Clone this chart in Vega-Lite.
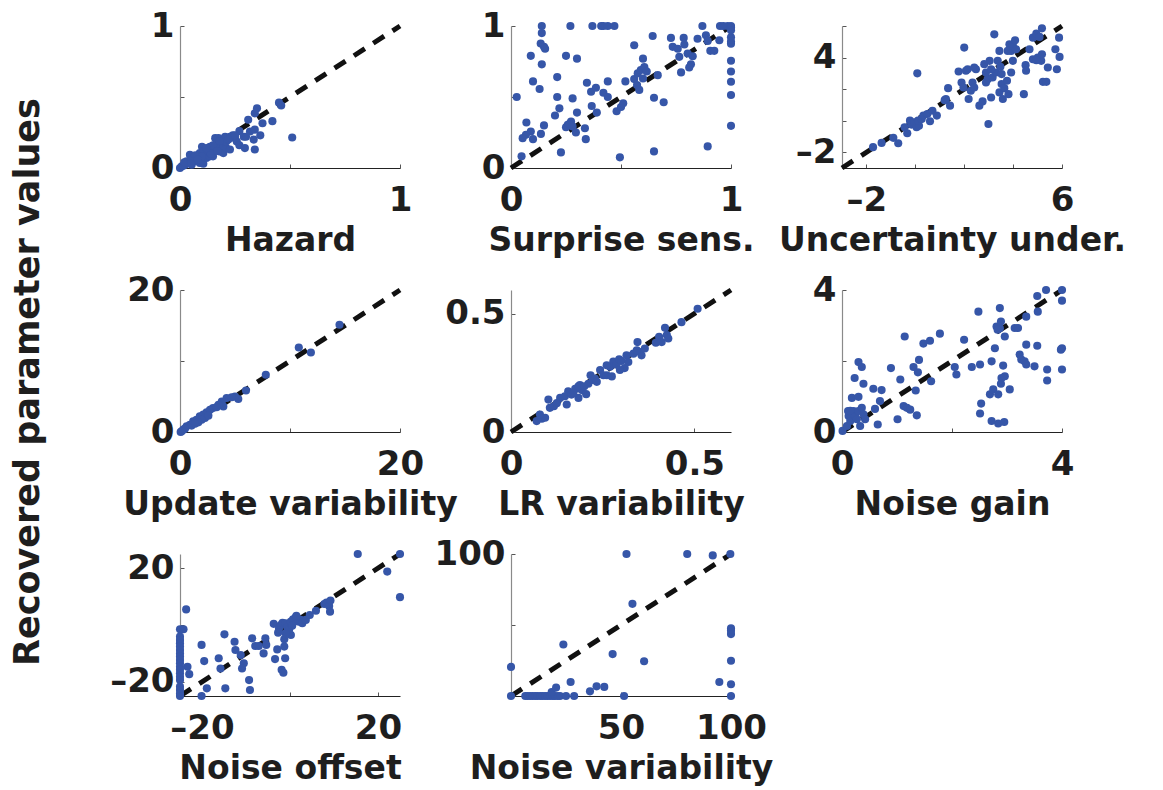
{
  "$schema": "https://vega.github.io/schema/vega-lite/v6.json",
  "background": "white",
  "padding": {"left": 10, "top": 9, "right": 5, "bottom": 5},
  "title": {"text": "Recovered parameter values", "orient": "left", "anchor": "middle", "font": "DejaVu Sans", "fontSize": 35, "fontWeight": "bold", "color": "#1e1e1e", "offset": 64, "dx": 15},
  "config": {
    "font": "DejaVu Sans",
    "view": {"stroke": null},
    "axis": {"labelFont": "DejaVu Sans", "labelFontSize": 34, "labelFontWeight": "bold", "labelColor": "#1e1e1e", "titleFont": "DejaVu Sans", "titleFontSize": 33, "titleFontWeight": "bold", "titleColor": "#1e1e1e", "grid": false, "tickSize": -4, "tickColor": "#555", "domainWidth": 1.2, "labelOverlap": false, "labelFlush": false, "labelBound": false},
    "axisX": {"domainColor": "#222", "labelPadding": 19, "titlePadding": 7},
    "axisY": {"domainColor": "#8a8a8a", "labelPadding": 10}
  },
  "datasets": {
    "diag01": [{"simulated": 0, "recovered": 0}, {"simulated": 1, "recovered": 1}],
    "diag3": [{"simulated": -3, "recovered": -3}, {"simulated": 6, "recovered": 6}],
    "diag20": [{"simulated": 0, "recovered": 0}, {"simulated": 20, "recovered": 20}],
    "diag06": [{"simulated": 0, "recovered": 0}, {"simulated": 0.6, "recovered": 0.6}],
    "diag4": [{"simulated": 0, "recovered": 0}, {"simulated": 4, "recovered": 4}],
    "diag25": [{"simulated": -25, "recovered": -25}, {"simulated": 25, "recovered": 25}],
    "diag100": [{"simulated": 0, "recovered": 0}, {"simulated": 100, "recovered": 100}],
    "hazard": [
      {"simulated": 0, "recovered": 0}, {"simulated": 0.008, "recovered": 0.012}, {"simulated": 0.015, "recovered": 0.016}, {"simulated": 0.023, "recovered": 0.023}, {"simulated": 0.03, "recovered": 0.047}, {"simulated": 0.038, "recovered": 0.035}, {"simulated": 0.045, "recovered": 0.093}, {"simulated": 0.053, "recovered": 0.023}, {"simulated": 0.06, "recovered": 0.07}, {"simulated": 0.068, "recovered": 0.047}, {"simulated": 0.076, "recovered": 0.058}, {"simulated": 0.083, "recovered": 0.082}, {"simulated": 0.09, "recovered": 0.035}, {"simulated": 0.09, "recovered": 0.105}, {"simulated": 0.1, "recovered": 0.15}, {"simulated": 0.106, "recovered": 0.117}, {"simulated": 0.106, "recovered": 0.03}, {"simulated": 0.12, "recovered": 0.105}, {"simulated": 0.12, "recovered": 0.07}, {"simulated": 0.136, "recovered": 0.15}, {"simulated": 0.136, "recovered": 0.082}, {"simulated": 0.144, "recovered": 0.117}, {"simulated": 0.15, "recovered": 0.082}, {"simulated": 0.16, "recovered": 0.21}, {"simulated": 0.167, "recovered": 0.175}, {"simulated": 0.167, "recovered": 0.14}, {"simulated": 0.175, "recovered": 0.21}, {"simulated": 0.18, "recovered": 0.117}, {"simulated": 0.19, "recovered": 0.187}, {"simulated": 0.197, "recovered": 0.15}, {"simulated": 0.197, "recovered": 0.105}, {"simulated": 0.205, "recovered": 0.22}, {"simulated": 0.21, "recovered": 0.14}, {"simulated": 0.21, "recovered": 0.187}, {"simulated": 0.227, "recovered": 0.22}, {"simulated": 0.227, "recovered": 0.13}, {"simulated": 0.24, "recovered": 0.23}, {"simulated": 0.25, "recovered": 0.21}, {"simulated": 0.258, "recovered": 0.187}, {"simulated": 0.27, "recovered": 0.26}, {"simulated": 0.27, "recovered": 0.16}, {"simulated": 0.29, "recovered": 0.22}, {"simulated": 0.295, "recovered": 0.14}, {"simulated": 0.3, "recovered": 0.22}, {"simulated": 0.31, "recovered": 0.34}, {"simulated": 0.318, "recovered": 0.257}, {"simulated": 0.335, "recovered": 0.2}, {"simulated": 0.34, "recovered": 0.385}, {"simulated": 0.34, "recovered": 0.27}, {"simulated": 0.34, "recovered": 0.13}, {"simulated": 0.35, "recovered": 0.42}, {"simulated": 0.365, "recovered": 0.23}, {"simulated": 0.375, "recovered": 0.315}, {"simulated": 0.42, "recovered": 0.33}, {"simulated": 0.45, "recovered": 0.46}, {"simulated": 0.46, "recovered": 0.44}, {"simulated": 0.51, "recovered": 0.215},
      {"simulated": 0.02, "recovered": 0.04}, {"simulated": 0.05, "recovered": 0.05}, {"simulated": 0.07, "recovered": 0.09}, {"simulated": 0.11, "recovered": 0.12}, {"simulated": 0.13, "recovered": 0.13}, {"simulated": 0.15, "recovered": 0.16}, {"simulated": 0.18, "recovered": 0.19}, {"simulated": 0.22, "recovered": 0.2}, {"simulated": 0.25, "recovered": 0.23}, {"simulated": 0.1, "recovered": 0.08}, {"simulated": 0.14, "recovered": 0.1}, {"simulated": 0.17, "recovered": 0.12}, {"simulated": 0.05, "recovered": 0.03}, {"simulated": 0.08, "recovered": 0.06}, {"simulated": 0.12, "recovered": 0.14}
    ],
    "surprise": [
      {"simulated": 0.14, "recovered": 1}, {"simulated": 0.27, "recovered": 1}, {"simulated": 0.37, "recovered": 1}, {"simulated": 0.41, "recovered": 1}, {"simulated": 0.42, "recovered": 1}, {"simulated": 0.44, "recovered": 1}, {"simulated": 0.47, "recovered": 1}, {"simulated": 0.87, "recovered": 1}, {"simulated": 0.95, "recovered": 1}, {"simulated": 0.965, "recovered": 1}, {"simulated": 0.985, "recovered": 1}, {"simulated": 1, "recovered": 1}, {"simulated": 1, "recovered": 0.99},
      {"simulated": 0.14, "recovered": 0.95}, {"simulated": 0.135, "recovered": 0.876}, {"simulated": 0.15, "recovered": 0.853}, {"simulated": 0.155, "recovered": 0.84}, {"simulated": 0.09, "recovered": 0.79}, {"simulated": 0.14, "recovered": 0.73}, {"simulated": 0.25, "recovered": 0.79}, {"simulated": 0.3, "recovered": 0.77}, {"simulated": 0.1, "recovered": 0.61}, {"simulated": 0.13, "recovered": 0.556}, {"simulated": 0.21, "recovered": 0.64}, {"simulated": 0.21, "recovered": 0.5}, {"simulated": 0.026, "recovered": 0.5}, {"simulated": 0.28, "recovered": 0.49}, {"simulated": 0.22, "recovered": 0.42}, {"simulated": 0.2, "recovered": 0.37}, {"simulated": 0.3, "recovered": 0.39}, {"simulated": 0.07, "recovered": 0.32}, {"simulated": 0.15, "recovered": 0.3}, {"simulated": 0.09, "recovered": 0.257}, {"simulated": 0.068, "recovered": 0.234}, {"simulated": 0.053, "recovered": 0.21}, {"simulated": 0.1, "recovered": 0.203}, {"simulated": 0.136, "recovered": 0.24}, {"simulated": 0.048, "recovered": 0.082}, {"simulated": 0.227, "recovered": 0.11}, {"simulated": 0.258, "recovered": 0.304}, {"simulated": 0.273, "recovered": 0.327}, {"simulated": 0.25, "recovered": 0.287}, {"simulated": 0.28, "recovered": 0.292}, {"simulated": 0.295, "recovered": 0.25}, {"simulated": 0.265, "recovered": 0.31}, {"simulated": 0.336, "recovered": 0.28}, {"simulated": 0.34, "recovered": 0.203}, {"simulated": 0.345, "recovered": 0.6}, {"simulated": 0.364, "recovered": 0.537}, {"simulated": 0.386, "recovered": 0.565}, {"simulated": 0.367, "recovered": 0.437}, {"simulated": 0.39, "recovered": 0.39}, {"simulated": 0.42, "recovered": 0.53}, {"simulated": 0.44, "recovered": 0.5}, {"simulated": 0.44, "recovered": 0.61}, {"simulated": 0.48, "recovered": 0.4}, {"simulated": 0.5, "recovered": 0.43}, {"simulated": 0.51, "recovered": 0.456}, {"simulated": 0.52, "recovered": 0.61}, {"simulated": 0.495, "recovered": 0.075}, {"simulated": 0.56, "recovered": 0.626}, {"simulated": 0.573, "recovered": 0.584}, {"simulated": 0.583, "recovered": 0.55}, {"simulated": 0.576, "recovered": 0.666}, {"simulated": 0.6, "recovered": 0.63}, {"simulated": 0.6, "recovered": 0.77}, {"simulated": 0.59, "recovered": 0.69}, {"simulated": 0.606, "recovered": 0.71}, {"simulated": 0.617, "recovered": 0.68}, {"simulated": 0.56, "recovered": 0.864}, {"simulated": 0.65, "recovered": 0.495}, {"simulated": 0.65, "recovered": 0.117}, {"simulated": 0.644, "recovered": 0.93}, {"simulated": 0.667, "recovered": 0.654}, {"simulated": 0.694, "recovered": 0.463}, {"simulated": 0.727, "recovered": 0.916}, {"simulated": 0.735, "recovered": 0.853}, {"simulated": 0.758, "recovered": 0.84}, {"simulated": 0.765, "recovered": 0.783}, {"simulated": 0.785, "recovered": 0.916}, {"simulated": 0.788, "recovered": 0.87}, {"simulated": 0.803, "recovered": 0.806}, {"simulated": 0.826, "recovered": 0.787}, {"simulated": 0.818, "recovered": 0.73}, {"simulated": 0.81, "recovered": 0.708}, {"simulated": 0.773, "recovered": 0.673}, {"simulated": 0.848, "recovered": 0.91}, {"simulated": 0.886, "recovered": 0.935}, {"simulated": 0.894, "recovered": 0.895}, {"simulated": 0.906, "recovered": 0.825}, {"simulated": 0.924, "recovered": 0.825}, {"simulated": 0.894, "recovered": 0.152}, {"simulated": 0.947, "recovered": 0.9}, {"simulated": 1, "recovered": 0.92}, {"simulated": 1, "recovered": 0.89}, {"simulated": 1, "recovered": 0.875}, {"simulated": 1, "recovered": 0.755}, {"simulated": 1, "recovered": 0.68}, {"simulated": 1, "recovered": 0.607}, {"simulated": 1, "recovered": 0.514}, {"simulated": 1, "recovered": 0.297}, {"simulated": 1, "recovered": 0.97}
    ],
    "uncertainty": [
      {"simulated": -1.73, "recovered": -1.68}, {"simulated": -1.38, "recovered": -1.41}, {"simulated": -0.9, "recovered": -1.09}, {"simulated": -0.7, "recovered": -1.43}, {"simulated": -0.44, "recovered": -0.42}, {"simulated": -0.33, "recovered": -0.8}, {"simulated": -0.22, "recovered": 0.0}, {"simulated": -0.16, "recovered": -0.25}, {"simulated": -0.05, "recovered": -0.1}, {"simulated": 0.05, "recovered": -0.42}, {"simulated": 0.15, "recovered": -0.32}, {"simulated": 0.11, "recovered": 0.0}, {"simulated": 0.26, "recovered": 0.1}, {"simulated": 0.33, "recovered": 0.32}, {"simulated": 0.49, "recovered": 0.42}, {"simulated": 0.6, "recovered": -0.04}, {"simulated": 0.7, "recovered": 0.63}, {"simulated": 0.88, "recovered": 0.32}, {"simulated": 0.08, "recovered": 3.0}, {"simulated": 1.25, "recovered": 1.37}, {"simulated": 1.34, "recovered": 2.06}, {"simulated": 1.42, "recovered": 0.95}, {"simulated": 1.2, "recovered": 1.3}, {"simulated": 1.77, "recovered": 3.12}, {"simulated": 1.89, "recovered": 2.42}, {"simulated": 2.0, "recovered": 4.63}, {"simulated": 2.07, "recovered": 3.16}, {"simulated": 2.14, "recovered": 3.26}, {"simulated": 1.97, "recovered": 2.1}, {"simulated": 2.18, "recovered": 1.37}, {"simulated": 2.27, "recovered": 1.9}, {"simulated": 2.34, "recovered": 2.42}, {"simulated": 2.41, "recovered": 2.1}, {"simulated": 2.48, "recovered": 3.26}, {"simulated": 2.62, "recovered": 0.95}, {"simulated": 2.75, "recovered": 1.22}, {"simulated": 2.82, "recovered": 3.58}, {"simulated": 2.89, "recovered": 3.05}, {"simulated": 2.89, "recovered": 2.42}, {"simulated": 2.96, "recovered": 2.63}, {"simulated": 2.99, "recovered": -0.21}, {"simulated": 3.04, "recovered": 3.79}, {"simulated": 3.1, "recovered": 1.47}, {"simulated": 3.16, "recovered": 2.74}, {"simulated": 3.23, "recovered": 5.47}, {"simulated": 3.3, "recovered": 3.05}, {"simulated": 3.37, "recovered": 3.79}, {"simulated": 3.44, "recovered": 4.42}, {"simulated": 3.48, "recovered": 3.41}, {"simulated": 3.53, "recovered": 2.95}, {"simulated": 3.53, "recovered": 2.32}, {"simulated": 3.44, "recovered": 1.79}, {"simulated": 3.58, "recovered": 1.37}, {"simulated": 3.64, "recovered": 2.06}, {"simulated": 3.75, "recovered": 2.53}, {"simulated": 3.81, "recovered": 1.68}, {"simulated": 3.85, "recovered": 4.84}, {"simulated": 3.92, "recovered": 4.42}, {"simulated": 3.99, "recovered": 3.79}, {"simulated": 3.92, "recovered": 3.05}, {"simulated": 3.99, "recovered": 4.74}, {"simulated": 4.08, "recovered": 5.09}, {"simulated": 4.12, "recovered": 4.53}, {"simulated": 4.44, "recovered": 1.68}, {"simulated": 4.51, "recovered": 3.52}, {"simulated": 4.53, "recovered": 3.16}, {"simulated": 4.67, "recovered": 4.53}, {"simulated": 4.81, "recovered": 5.26}, {"simulated": 4.81, "recovered": 3.89}, {"simulated": 4.95, "recovered": 5.52}, {"simulated": 5.01, "recovered": 4.0}, {"simulated": 5.08, "recovered": 5.31}, {"simulated": 5.15, "recovered": 3.79}, {"simulated": 5.18, "recovered": 5.85}, {"simulated": 5.18, "recovered": 4.21}, {"simulated": 5.22, "recovered": 2.46}, {"simulated": 5.36, "recovered": 2.46}, {"simulated": 5.42, "recovered": 3.37}, {"simulated": 5.73, "recovered": 4.53}, {"simulated": 5.79, "recovered": 3.26}, {"simulated": 5.88, "recovered": 5.26}, {"simulated": 5.9, "recovered": 4.04}, {"simulated": 4.95, "recovered": 3.83}, {"simulated": 3.78, "recovered": 4.42}, {"simulated": 3.1, "recovered": 3.26}, {"simulated": 2.41, "recovered": 3.37}
    ],
    "update": [
      {"simulated": 14.5, "recovered": 15.1}, {"simulated": 10.8, "recovered": 11.9}, {"simulated": 11.9, "recovered": 11.2}, {"simulated": 7.8, "recovered": 8.06}, {"simulated": 6.0, "recovered": 5.85}, {"simulated": 5.3, "recovered": 4.64}, {"simulated": 5.0, "recovered": 5.0}, {"simulated": 4.24, "recovered": 4.78}, {"simulated": 3.94, "recovered": 3.6}, {"simulated": 3.8, "recovered": 4.3}, {"simulated": 3.5, "recovered": 3.84}, {"simulated": 3.0, "recovered": 3.37}, {"simulated": 2.73, "recovered": 3.14}, {"simulated": 2.42, "recovered": 2.76}, {"simulated": 2.12, "recovered": 2.44}, {"simulated": 1.8, "recovered": 2.2}, {"simulated": 1.5, "recovered": 1.73}, {"simulated": 1.2, "recovered": 1.5}, {"simulated": 0.9, "recovered": 1.03}, {"simulated": 0.6, "recovered": 0.8}, {"simulated": 0.3, "recovered": 0.33}, {"simulated": 0.06, "recovered": 0}, {"simulated": 2.27, "recovered": 1.97}, {"simulated": 2.58, "recovered": 2.3}, {"simulated": 1.97, "recovered": 1.73}, {"simulated": 1.67, "recovered": 1.36}, {"simulated": 1.06, "recovered": 0.9}, {"simulated": 0.45, "recovered": 0.47}, {"simulated": 0.15, "recovered": 0.1}, {"simulated": 1.36, "recovered": 1.17}, {"simulated": 3.33, "recovered": 3.5}, {"simulated": 4.7, "recovered": 4.9}
    ],
    "lrvar": [
      {"simulated": 0.07, "recovered": 0.046}, {"simulated": 0.084, "recovered": 0.056}, {"simulated": 0.093, "recovered": 0.06}, {"simulated": 0.079, "recovered": 0.074}, {"simulated": 0.102, "recovered": 0.137}, {"simulated": 0.106, "recovered": 0.102}, {"simulated": 0.117, "recovered": 0.109}, {"simulated": 0.134, "recovered": 0.144}, {"simulated": 0.152, "recovered": 0.116}, {"simulated": 0.147, "recovered": 0.151}, {"simulated": 0.156, "recovered": 0.172}, {"simulated": 0.165, "recovered": 0.158}, {"simulated": 0.175, "recovered": 0.182}, {"simulated": 0.184, "recovered": 0.144}, {"simulated": 0.188, "recovered": 0.198}, {"simulated": 0.193, "recovered": 0.177}, {"simulated": 0.205, "recovered": 0.16}, {"simulated": 0.211, "recovered": 0.204}, {"simulated": 0.217, "recovered": 0.24}, {"simulated": 0.223, "recovered": 0.22}, {"simulated": 0.229, "recovered": 0.226}, {"simulated": 0.234, "recovered": 0.212}, {"simulated": 0.243, "recovered": 0.262}, {"simulated": 0.252, "recovered": 0.24}, {"simulated": 0.261, "recovered": 0.24}, {"simulated": 0.275, "recovered": 0.235}, {"simulated": 0.27, "recovered": 0.276}, {"simulated": 0.279, "recovered": 0.298}, {"simulated": 0.288, "recovered": 0.284}, {"simulated": 0.295, "recovered": 0.307}, {"simulated": 0.301, "recovered": 0.3}, {"simulated": 0.31, "recovered": 0.27}, {"simulated": 0.315, "recovered": 0.324}, {"simulated": 0.32, "recovered": 0.296}, {"simulated": 0.334, "recovered": 0.331}, {"simulated": 0.345, "recovered": 0.38}, {"simulated": 0.352, "recovered": 0.338}, {"simulated": 0.356, "recovered": 0.324}, {"simulated": 0.365, "recovered": 0.353}, {"simulated": 0.395, "recovered": 0.377}, {"simulated": 0.404, "recovered": 0.402}, {"simulated": 0.411, "recovered": 0.38}, {"simulated": 0.42, "recovered": 0.44}, {"simulated": 0.425, "recovered": 0.41}, {"simulated": 0.429, "recovered": 0.395}, {"simulated": 0.465, "recovered": 0.464}, {"simulated": 0.509, "recovered": 0.521}, {"simulated": 0.184, "recovered": 0.193}, {"simulated": 0.17, "recovered": 0.165}, {"simulated": 0.125, "recovered": 0.122}, {"simulated": 0.2, "recovered": 0.193}, {"simulated": 0.261, "recovered": 0.282}, {"simulated": 0.297, "recovered": 0.262}, {"simulated": 0.343, "recovered": 0.345}
    ],
    "gain": [
      {"simulated": 0.01, "recovered": 0.03}, {"simulated": 0.09, "recovered": 0.17}, {"simulated": 0.12, "recovered": 0.45}, {"simulated": 0.15, "recovered": 0.31}, {"simulated": 0.18, "recovered": 0.54}, {"simulated": 0.21, "recovered": 0.59}, {"simulated": 0.24, "recovered": 0.45}, {"simulated": 0.27, "recovered": 0.36}, {"simulated": 0.3, "recovered": 0.59}, {"simulated": 0.33, "recovered": 0.17}, {"simulated": 0.36, "recovered": 0.68}, {"simulated": 0.39, "recovered": 0.5}, {"simulated": 0.42, "recovered": 0.36}, {"simulated": 0.18, "recovered": 0.96}, {"simulated": 0.3, "recovered": 0.99}, {"simulated": 0.23, "recovered": 1.52}, {"simulated": 0.3, "recovered": 1.97}, {"simulated": 0.36, "recovered": 1.83}, {"simulated": 0.39, "recovered": 1.36}, {"simulated": 0.57, "recovered": 1.22}, {"simulated": 0.6, "recovered": 0.65}, {"simulated": 0.65, "recovered": 0.21}, {"simulated": 0.72, "recovered": 1.18}, {"simulated": 0.69, "recovered": 0.87}, {"simulated": 0.89, "recovered": 1.8}, {"simulated": 1.01, "recovered": 0.36}, {"simulated": 1.06, "recovered": 1.48}, {"simulated": 1.14, "recovered": 2.69}, {"simulated": 1.12, "recovered": 0.73}, {"simulated": 1.18, "recovered": 0.68}, {"simulated": 1.24, "recovered": 0.63}, {"simulated": 1.34, "recovered": 1.17}, {"simulated": 1.36, "recovered": 0.47}, {"simulated": 1.3, "recovered": 1.83}, {"simulated": 1.38, "recovered": 1.68}, {"simulated": 1.4, "recovered": 2.03}, {"simulated": 1.48, "recovered": 2.49}, {"simulated": 1.6, "recovered": 2.57}, {"simulated": 1.62, "recovered": 1.43}, {"simulated": 1.78, "recovered": 2.77}, {"simulated": 2.05, "recovered": 1.83}, {"simulated": 2.08, "recovered": 1.62}, {"simulated": 2.22, "recovered": 2.6}, {"simulated": 2.36, "recovered": 1.83}, {"simulated": 2.48, "recovered": 3.39}, {"simulated": 2.51, "recovered": 1.9}, {"simulated": 2.53, "recovered": 0.8}, {"simulated": 2.51, "recovered": 0.52}, {"simulated": 2.69, "recovered": 1.06}, {"simulated": 2.72, "recovered": 1.99}, {"simulated": 2.75, "recovered": 1.2}, {"simulated": 2.72, "recovered": 0.31}, {"simulated": 2.78, "recovered": 2.36}, {"simulated": 2.81, "recovered": 2.97}, {"simulated": 2.84, "recovered": 0.24}, {"simulated": 2.84, "recovered": 1.06}, {"simulated": 2.87, "recovered": 3.49}, {"simulated": 2.89, "recovered": 3.11}, {"simulated": 2.93, "recovered": 1.87}, {"simulated": 2.96, "recovered": 2.69}, {"simulated": 2.9, "recovered": 1.52}, {"simulated": 2.96, "recovered": 1.57}, {"simulated": 2.89, "recovered": 1.36}, {"simulated": 2.95, "recovered": 0.28}, {"simulated": 3.05, "recovered": 1.2}, {"simulated": 3.14, "recovered": 2.93}, {"simulated": 3.2, "recovered": 2.93}, {"simulated": 3.23, "recovered": 2.18}, {"simulated": 3.26, "recovered": 2.04}, {"simulated": 3.32, "recovered": 1.99}, {"simulated": 3.35, "recovered": 1.9}, {"simulated": 3.35, "recovered": 2.46}, {"simulated": 3.35, "recovered": 3.25}, {"simulated": 3.5, "recovered": 1.85}, {"simulated": 3.56, "recovered": 3.39}, {"simulated": 3.55, "recovered": 2.43}, {"simulated": 3.55, "recovered": 3.83}, {"simulated": 3.71, "recovered": 4.0}, {"simulated": 3.73, "recovered": 1.76}, {"simulated": 3.73, "recovered": 1.45}, {"simulated": 4.0, "recovered": 4.0}, {"simulated": 4.0, "recovered": 3.7}, {"simulated": 4.0, "recovered": 2.36}, {"simulated": 3.98, "recovered": 2.32}, {"simulated": 4.0, "recovered": 1.76}, {"simulated": 2.87, "recovered": 2.92}, {"simulated": 2.83, "recovered": 2.88}, {"simulated": 0.11, "recovered": 0.59}, {"simulated": 0.15, "recovered": 0.6}
    ],
    "offset": [
      {"simulated": -25, "recovered": -1.5}, {"simulated": -25, "recovered": -4.1}, {"simulated": -25, "recovered": -5.3}, {"simulated": -25, "recovered": -6.4}, {"simulated": -25, "recovered": -7.6}, {"simulated": -25, "recovered": -8.8}, {"simulated": -25, "recovered": -10}, {"simulated": -25, "recovered": -11.1}, {"simulated": -25, "recovered": -12.3}, {"simulated": -25, "recovered": -13.5}, {"simulated": -25, "recovered": -14.7}, {"simulated": -25, "recovered": -15.8}, {"simulated": -25, "recovered": -17}, {"simulated": -25, "recovered": -18.2}, {"simulated": -25, "recovered": -19.4}, {"simulated": -25, "recovered": -21.7}, {"simulated": -25, "recovered": -22.9}, {"simulated": -25, "recovered": -24.1}, {"simulated": -25, "recovered": -25},
      {"simulated": -24.2, "recovered": -1.5}, {"simulated": -23.6, "recovered": 5.5}, {"simulated": -23.3, "recovered": -14.7}, {"simulated": -22.9, "recovered": -17.3}, {"simulated": -20.1, "recovered": -7}, {"simulated": -19.5, "recovered": -12.7}, {"simulated": -18.9, "recovered": -22.3}, {"simulated": -20.1, "recovered": -25}, {"simulated": -16.2, "recovered": -11.7}, {"simulated": -15.8, "recovered": -15.3}, {"simulated": -14.9, "recovered": -3.3}, {"simulated": -14.7, "recovered": -22.3}, {"simulated": -12.6, "recovered": -5.9}, {"simulated": -12.4, "recovered": -8.8}, {"simulated": -11.2, "recovered": -10.6}, {"simulated": -10.5, "recovered": -13.5}, {"simulated": -10.9, "recovered": -15.3}, {"simulated": -9.3, "recovered": -19.4}, {"simulated": -9.1, "recovered": -22.9}, {"simulated": -8.6, "recovered": -4.7}, {"simulated": -7.9, "recovered": -7.4}, {"simulated": -7.1, "recovered": -7.4}, {"simulated": -6.0, "recovered": -10}, {"simulated": -5.6, "recovered": -4.7}, {"simulated": -5.4, "recovered": -7}, {"simulated": -3.7, "recovered": 0.4}, {"simulated": -3.4, "recovered": -12}, {"simulated": -2.9, "recovered": -8.6}, {"simulated": -1.9, "recovered": -15.8}, {"simulated": -1.5, "recovered": -16.8}, {"simulated": -1.1, "recovered": -11.7}, {"simulated": -1.3, "recovered": -7.6}, {"simulated": -1.3, "recovered": -5}, {"simulated": -2.7, "recovered": -2.7}, {"simulated": -2.5, "recovered": -1.2}, {"simulated": -2.1, "recovered": 0}, {"simulated": -1.7, "recovered": 0.8}, {"simulated": -1, "recovered": 0.6}, {"simulated": -0.6, "recovered": -0.8}, {"simulated": -0.2, "recovered": -1.7}, {"simulated": 0.2, "recovered": -3.5}, {"simulated": 0.2, "recovered": 1.2}, {"simulated": 0.7, "recovered": 2}, {"simulated": 1.3, "recovered": 2.7}, {"simulated": 1.9, "recovered": 1.2}, {"simulated": 2.4, "recovered": 1.8}, {"simulated": 2.8, "recovered": 0.6}, {"simulated": 1.45, "recovered": 3.2}, {"simulated": 3.6, "recovered": 1.8}, {"simulated": 4.5, "recovered": 3.5}, {"simulated": 5.9, "recovered": 5}, {"simulated": 7.8, "recovered": 7.4}, {"simulated": 8.3, "recovered": 7.9}, {"simulated": 8.9, "recovered": 6.7}, {"simulated": 9.2, "recovered": 8.6}, {"simulated": 9.1, "recovered": 4.7}, {"simulated": 15.4, "recovered": 25}, {"simulated": 22.1, "recovered": 18.8}, {"simulated": 25, "recovered": 25}, {"simulated": 25, "recovered": 9.8}, {"simulated": -1, "recovered": -2.9}, {"simulated": 0.5, "recovered": -0.3}
    ],
    "noisevar": [
      {"simulated": 0, "recovered": 0}, {"simulated": 0, "recovered": 20.5}, {"simulated": 6.5, "recovered": 0}, {"simulated": 7.5, "recovered": 0}, {"simulated": 8.7, "recovered": 0}, {"simulated": 9.8, "recovered": 0}, {"simulated": 11, "recovered": 0}, {"simulated": 12, "recovered": 0}, {"simulated": 13.3, "recovered": 0}, {"simulated": 14.3, "recovered": 0}, {"simulated": 15.5, "recovered": 0}, {"simulated": 16.6, "recovered": 0}, {"simulated": 17.8, "recovered": 0}, {"simulated": 19, "recovered": 0}, {"simulated": 20, "recovered": 0}, {"simulated": 21.3, "recovered": 0}, {"simulated": 22.3, "recovered": 0}, {"simulated": 25, "recovered": 0}, {"simulated": 28.7, "recovered": 0}, {"simulated": 18.5, "recovered": 2.8}, {"simulated": 20.5, "recovered": 5.9}, {"simulated": 23.8, "recovered": 36.3}, {"simulated": 27.1, "recovered": 9.9}, {"simulated": 35.9, "recovered": 3.3}, {"simulated": 38.9, "recovered": 6.8}, {"simulated": 42.4, "recovered": 6.4}, {"simulated": 46.2, "recovered": 29.5}, {"simulated": 51.4, "recovered": 0}, {"simulated": 52.5, "recovered": 100}, {"simulated": 55.2, "recovered": 64.9}, {"simulated": 60.5, "recovered": 24.5}, {"simulated": 80.1, "recovered": 100}, {"simulated": 91.7, "recovered": 99}, {"simulated": 94.7, "recovered": 9.9}, {"simulated": 99.7, "recovered": 100}, {"simulated": 100, "recovered": 47.6}, {"simulated": 100, "recovered": 46}, {"simulated": 100, "recovered": 43.6}, {"simulated": 100, "recovered": 24.8}, {"simulated": 100, "recovered": 8.3}, {"simulated": 100, "recovered": 0}
    ]
  },
  "columns": 3,
  "spacing": {"row": 122, "column": 111},
  "bounds": "flush",
  "concat": [
    {
      "width": 220, "height": 142,
      "encoding": {
        "x": {"field": "simulated", "type": "quantitative", "title": "Hazard", "scale": {"domain": [0, 1], "nice": false, "zero": false}, "axis": {"values": [0, 0.5, 1], "labelExpr": "datum.value == 0 ? '0' : datum.value == 1 ? '1' : ''"}},
        "y": {"field": "recovered", "type": "quantitative", "title": null, "scale": {"domain": [0, 1], "nice": false, "zero": false}, "axis": {"values": [0, 0.5, 1], "labelExpr": "datum.value == 0 ? '0' : datum.value == 1 ? '1' : ''"}}
      },
      "layer": [
        {"data": {"name": "diag01"}, "mark": {"type": "line", "color": "#111", "strokeWidth": 5, "strokeDash": [13, 10]}, "encoding": {}},
        {"data": {"name": "hazard"}, "mark": {"type": "circle", "color": "#3656a8", "size": 66, "opacity": 1}}
      ]
    },
    {
      "width": 220, "height": 142,
      "encoding": {
        "x": {"field": "simulated", "type": "quantitative", "title": "Surprise sens.", "scale": {"domain": [0, 1], "nice": false, "zero": false}, "axis": {"values": [0, 0.5, 1], "labelExpr": "datum.value == 0 ? '0' : datum.value == 1 ? '1' : ''"}},
        "y": {"field": "recovered", "type": "quantitative", "title": null, "scale": {"domain": [0, 1], "nice": false, "zero": false}, "axis": {"values": [0, 0.5, 1], "labelExpr": "datum.value == 0 ? '0' : datum.value == 1 ? '1' : ''"}}
      },
      "layer": [
        {"data": {"name": "diag01"}, "mark": {"type": "line", "color": "#111", "strokeWidth": 5, "strokeDash": [13, 10]}, "encoding": {}},
        {"data": {"name": "surprise"}, "mark": {"type": "circle", "color": "#3656a8", "size": 66, "opacity": 1}}
      ]
    },
    {
      "width": 220, "height": 142,
      "encoding": {
        "x": {"field": "simulated", "type": "quantitative", "title": "Uncertainty under.", "scale": {"domain": [-3, 6], "nice": false, "zero": false}, "axis": {"values": [-2, 0, 2, 4, 6], "labelExpr": "datum.value == -2 ? '–2' : datum.value == 6 ? '6' : ''"}},
        "y": {"field": "recovered", "type": "quantitative", "title": null, "scale": {"domain": [-3, 6], "nice": false, "zero": false}, "axis": {"values": [-2, 0, 2, 4, 6], "labelExpr": "datum.value == -2 ? '–2' : datum.value == 4 ? '4' : ''"}}
      },
      "layer": [
        {"data": {"name": "diag3"}, "mark": {"type": "line", "color": "#111", "strokeWidth": 5, "strokeDash": [13, 10]}, "encoding": {}},
        {"data": {"name": "uncertainty"}, "mark": {"type": "circle", "color": "#3656a8", "size": 66, "opacity": 1}}
      ]
    },
    {
      "width": 220, "height": 142,
      "encoding": {
        "x": {"field": "simulated", "type": "quantitative", "title": "Update variability", "scale": {"domain": [0, 20], "nice": false, "zero": false}, "axis": {"values": [0, 10, 20], "labelExpr": "datum.value == 0 ? '0' : datum.value == 20 ? '20' : ''"}},
        "y": {"field": "recovered", "type": "quantitative", "title": null, "scale": {"domain": [0, 20], "nice": false, "zero": false}, "axis": {"values": [0, 10, 20], "labelExpr": "datum.value == 0 ? '0' : datum.value == 20 ? '20' : ''"}}
      },
      "layer": [
        {"data": {"name": "diag20"}, "mark": {"type": "line", "color": "#111", "strokeWidth": 5, "strokeDash": [13, 10]}, "encoding": {}},
        {"data": {"name": "update"}, "mark": {"type": "circle", "color": "#3656a8", "size": 66, "opacity": 1}}
      ]
    },
    {
      "width": 220, "height": 142,
      "encoding": {
        "x": {"field": "simulated", "type": "quantitative", "title": "LR variability", "scale": {"domain": [0, 0.6], "nice": false, "zero": false}, "axis": {"values": [0, 0.5], "labelExpr": "datum.value == 0 ? '0' : '0.5'"}},
        "y": {"field": "recovered", "type": "quantitative", "title": null, "scale": {"domain": [0, 0.6], "nice": false, "zero": false}, "axis": {"values": [0, 0.5], "labelExpr": "datum.value == 0 ? '0' : '0.5'"}}
      },
      "layer": [
        {"data": {"name": "diag06"}, "mark": {"type": "line", "color": "#111", "strokeWidth": 5, "strokeDash": [13, 10]}, "encoding": {}},
        {"data": {"name": "lrvar"}, "mark": {"type": "circle", "color": "#3656a8", "size": 66, "opacity": 1}}
      ]
    },
    {
      "width": 220, "height": 142,
      "encoding": {
        "x": {"field": "simulated", "type": "quantitative", "title": "Noise gain", "scale": {"domain": [0, 4], "nice": false, "zero": false}, "axis": {"values": [0, 2, 4], "labelExpr": "datum.value == 0 ? '0' : datum.value == 4 ? '4' : ''"}},
        "y": {"field": "recovered", "type": "quantitative", "title": null, "scale": {"domain": [0, 4], "nice": false, "zero": false}, "axis": {"values": [0, 2, 4], "labelExpr": "datum.value == 0 ? '0' : datum.value == 4 ? '4' : ''"}}
      },
      "layer": [
        {"data": {"name": "diag4"}, "mark": {"type": "line", "color": "#111", "strokeWidth": 5, "strokeDash": [13, 10]}, "encoding": {}},
        {"data": {"name": "gain"}, "mark": {"type": "circle", "color": "#3656a8", "size": 66, "opacity": 1}}
      ]
    },
    {
      "width": 220, "height": 142,
      "encoding": {
        "x": {"field": "simulated", "type": "quantitative", "title": "Noise offset", "scale": {"domain": [-25, 25], "nice": false, "zero": false}, "axis": {"values": [-20, 0, 20], "labelExpr": "datum.value == -20 ? '–20' : datum.value == 20 ? '20' : ''"}},
        "y": {"field": "recovered", "type": "quantitative", "title": null, "scale": {"domain": [-25, 25], "nice": false, "zero": false}, "axis": {"values": [-20, 0, 20], "labelExpr": "datum.value == -20 ? '–20' : datum.value == 20 ? '20' : ''"}}
      },
      "layer": [
        {"data": {"name": "diag25"}, "mark": {"type": "line", "color": "#111", "strokeWidth": 5, "strokeDash": [13, 10]}, "encoding": {}},
        {"data": {"name": "offset"}, "mark": {"type": "circle", "color": "#3656a8", "size": 66, "opacity": 1}}
      ]
    },
    {
      "width": 220, "height": 142,
      "encoding": {
        "x": {"field": "simulated", "type": "quantitative", "title": "Noise variability", "scale": {"domain": [0, 100], "nice": false, "zero": false}, "axis": {"values": [0, 50, 100], "labelExpr": "datum.value == 50 ? '50' : datum.value == 100 ? '100' : ''"}},
        "y": {"field": "recovered", "type": "quantitative", "title": null, "scale": {"domain": [0, 100], "nice": false, "zero": false}, "axis": {"values": [0, 50, 100], "labelExpr": "datum.value == 100 ? '100' : ''"}}
      },
      "layer": [
        {"data": {"name": "diag100"}, "mark": {"type": "line", "color": "#111", "strokeWidth": 5, "strokeDash": [13, 10]}, "encoding": {}},
        {"data": {"name": "noisevar"}, "mark": {"type": "circle", "color": "#3656a8", "size": 66, "opacity": 1}}
      ]
    }
  ]
}
